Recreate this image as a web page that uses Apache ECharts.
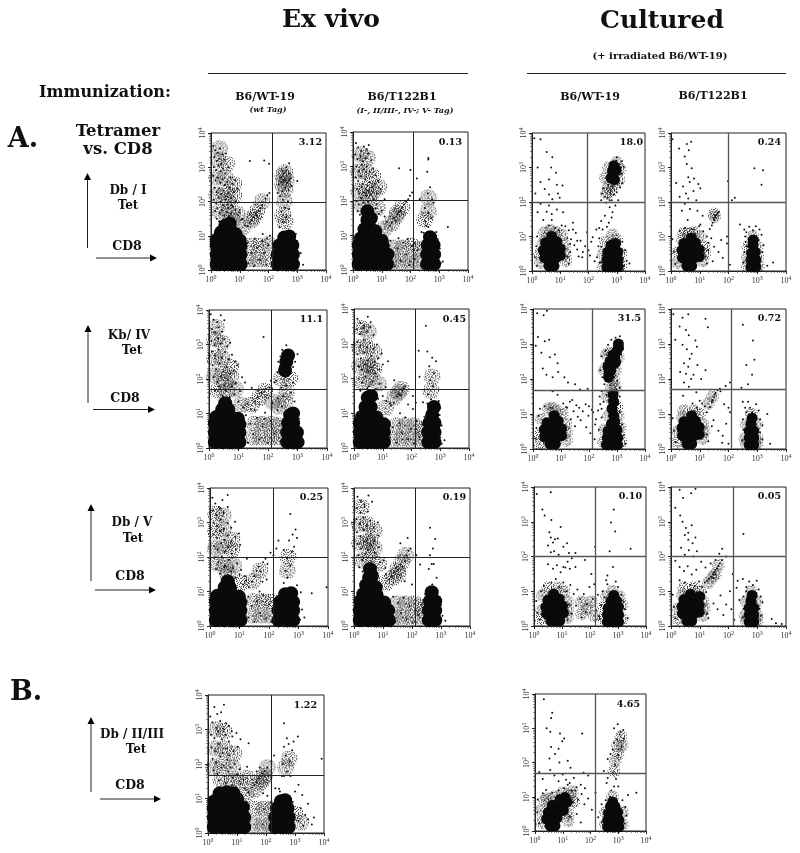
<!DOCTYPE html>
<html>
<head>
<meta charset="utf-8">
<style>
  html, body { margin: 0; padding: 0; background: #fff; }
  #main { width: 800px; height: 853px; }
</style>
<script src="https://cdn.jsdelivr.net/npm/echarts@6/dist/echarts.min.js"></script>
</head>
<body>
<div id="main"></div>
<script>
// tick labels (decade exponents) shared by all plots
const tickExponents = ['0', '1', '2', '3', '4'];

// percentages printed in the upper right quadrant
const percentValues = ['3.12', '0.13', '18.0', '0.24', '11.1', '0.45', '31.5', '0.72', '0.25', '0.19', '0.10', '0.05', '1.22', '4.65'];

// quadrant gates, CD8 and tetramer fluorescence
const gateX = [130, 125, 94, 98, 133, 135, 135, 129, 137, 134, 150, 146, 149, 154];
const gateY = [98, 102, 98, 98, 50, 50, 49, 50, 100, 100, 100, 100, 47, 48];

// events: flat x,y pairs in hundredths of a decade.
// Core = solid black populations, Haze = stippled areas too dense to list, Dots = single events
const p11Core = [20,17,47,17,75,17,103,17,20,45,47,45,75,45,103,45,20,72,47,72,75,72,103,70,20,88,47,90,75,90,100,86,35,110,60,112,85,105,50,130,65,135,232,17,260,17,285,17,232,45,260,45,285,45,238,72,262,72,283,72,255,95,272,98];
const p11Haze = [20,220,50,225,80,215,20,270,50,270,80,250,25,320,55,310,30,355,30,170,60,170,90,165,60,200,75,145,110,125,135,30,165,30,195,30,140,70,170,70,200,75,140,145,160,170,178,200,150,155,250,275,258,285,262,262,250,250,258,235,255,200,250,160,258,140];
const p11Dots = [8,362,15,350,24,342,32,355,40,338,12,330,20,318,28,325,36,310,46,322,52,340,10,300,18,292,26,305,34,288,42,296,50,282,60,300,68,270,8,275,16,262,24,270,32,255,40,265,48,248,56,258,64,240,74,252,84,262,12,240,20,228,28,238,36,222,44,232,52,215,60,225,70,210,80,228,92,238,10,205,18,195,26,212,34,200,42,190,50,205,58,192,66,198,76,185,86,200,100,175,14,172,22,180,30,165,38,175,46,160,54,170,62,158,70,165,80,150,95,160,108,148,20,150,28,142,60,180,72,190,85,175,98,168,110,150,118,130,128,128,135,138,142,146,148,155,155,165,160,160,166,172,172,180,178,190,184,198,190,208,196,218,203,225,130,20,140,50,150,12,160,65,170,30,178,85,185,50,192,15,200,72,208,35,215,55,128,80,152,92,195,92,222,60,180,105,205,100,238,125,250,140,262,155,245,170,258,182,272,178,250,205,268,200,240,215,232,225,248,230,258,240,270,232,280,245,235,250,245,258,255,262,265,255,278,268,272,262,242,270,252,282,262,290,272,282,248,290,262,300,272,312,305,20,312,50,320,15,300,85,295,105,135,318,185,320,202,310,300,260];

const p12Core = [20,17,48,17,76,17,104,17,118,17,20,45,48,45,76,45,104,45,120,45,20,72,48,72,76,72,104,70,28,92,52,94,78,92,100,85,40,118,60,118,78,112,50,145,62,150,50,170,258,17,282,17,258,45,282,45,260,72,280,72,268,95];
const p12Haze = [20,230,45,235,70,225,90,240,20,285,45,285,70,270,25,335,50,325,30,190,55,210,85,180,110,120,140,25,170,25,200,25,225,25,145,65,175,65,205,70,235,60,135,135,150,155,170,180,155,165,250,145,262,170,262,210];
const p12Dots = [10,368,18,355,28,345,38,358,48,350,55,362,8,335,16,322,26,330,34,315,44,325,54,338,64,318,12,300,20,288,30,305,38,292,48,300,58,285,70,295,78,275,10,268,18,258,26,272,34,250,42,262,50,245,58,255,66,240,76,250,88,258,14,235,22,222,30,240,38,225,46,215,54,230,62,218,72,205,84,222,96,235,12,200,20,190,28,208,36,195,44,182,52,198,60,185,70,175,82,190,110,205,16,170,24,160,78,178,90,162,100,172,110,155,118,140,128,128,135,138,142,150,148,142,155,160,160,168,166,172,172,182,178,190,185,198,192,205,198,215,206,225,125,18,135,42,145,10,155,62,165,28,175,80,185,46,195,14,205,70,215,32,225,58,235,12,130,85,158,92,190,90,215,78,245,108,262,125,252,140,272,150,262,165,250,180,275,205,260,222,268,240,280,195,258,285,262,325,262,320,238,110,255,128,232,205,295,90,305,20,302,62,290,110,312,25,330,125,200,290,222,265,160,295];

const p13Core = [60,15,78,15,45,38,65,38,85,38,100,45,40,60,60,60,80,60,100,65,48,82,68,82,88,85,70,100,265,12,285,12,305,12,265,32,285,32,305,32,268,55,288,55,304,55,280,75,296,80,285,290,298,292,280,270,292,265,290,305];
const p13Haze = [28,50,30,25,50,95,40,80,120,30,115,75,118,50,105,105,85,112,65,118,45,112,262,85,300,90,252,15,315,15,252,50,315,50,285,105,260,270,272,300,308,265,270,245,312,295,300,315,290,250,280,232,265,225];
const p13Dots = [8,385,30,382,20,300,52,345,72,330,68,300,85,285,60,265,88,250,30,258,45,238,60,222,72,208,108,248,92,225,30,195,52,172,70,165,88,178,110,170,12,225,40,148,20,170,60,190,98,212,70,148,82,125,72,112,60,132,95,118,118,130,138,92,155,110,172,88,188,72,200,60,215,98,228,120,235,72,205,45,222,28,178,40,160,62,135,55,125,42,130,22,15,72,10,40,18,15,18,100,125,95,135,78,145,120,150,75,160,88,165,42,180,55,195,112,210,85,230,40,238,95,240,25,130,118,105,132,145,140,245,145,258,160,272,140,282,155,238,125,250,120,265,128,245,70,250,45,245,25,320,85,330,60,335,30,325,15,345,22,248,225,258,215,268,212,275,205,252,240,245,205,262,198,278,225,285,245,270,250,298,320,308,310,318,318,318,282,320,255,312,242,300,228,290,222,282,205,295,190,305,205,275,185,285,170,300,330,315,300,325,302];

const p14Core = [55,15,72,15,40,38,60,38,80,38,98,42,38,60,58,60,78,60,98,62,45,80,65,80,85,82,70,95,278,12,295,12,278,32,295,32,280,52,293,55,285,75,286,90];
const p14Haze = [25,55,22,25,40,90,115,70,110,30,118,50,100,100,80,112,60,110,45,110,266,40,302,40,265,15,305,15,268,70,300,70,285,100,150,165,152,158];
const p14Dots = [5,382,28,355,48,332,55,368,62,350,70,375,18,255,55,310,60,272,72,298,42,245,52,225,65,258,80,268,95,252,30,215,48,195,60,210,78,232,102,240,88,205,38,175,66,180,92,175,110,160,58,148,72,122,85,108,98,130,112,115,125,100,130,82,140,95,145,140,150,148,155,155,158,162,162,168,166,172,148,152,153,160,142,132,135,122,150,70,165,55,180,38,195,80,205,18,145,28,130,60,120,42,125,22,5,92,10,55,15,20,30,115,48,125,80,120,102,135,112,60,175,90,195,100,198,260,212,205,222,212,290,298,320,292,315,250,240,135,255,120,262,112,272,128,285,118,295,130,308,120,315,105,305,90,322,75,318,55,310,30,260,85,255,55,252,25,262,72,258,100,335,15,355,25];

const p21Core = [20,17,47,17,75,17,103,17,20,45,47,45,75,45,103,45,20,72,47,72,75,72,103,68,25,90,50,92,75,90,98,85,45,112,65,112,55,130,265,17,285,17,300,17,265,45,285,45,298,45,268,72,285,72,275,95,285,100,262,250,258,225,268,268];
const p21Haze = [18,210,45,215,75,205,20,260,45,260,75,235,20,315,45,305,25,350,30,165,60,165,90,170,55,190,110,125,150,30,180,30,210,30,240,30,155,70,185,70,215,70,240,65,145,125,170,145,190,165,215,135,235,120,258,135,262,160,245,200,275,200];
const p21Dots = [6,388,15,372,28,365,40,385,52,370,10,345,20,335,32,350,44,338,8,310,18,298,30,318,40,302,52,315,62,295,72,305,10,280,20,268,32,285,42,262,54,278,66,258,78,270,88,250,12,240,24,228,36,245,48,222,60,235,72,215,84,225,96,240,112,205,15,205,28,192,40,208,52,182,64,198,78,178,90,188,105,165,122,190,145,175,20,165,34,178,46,152,58,168,70,148,85,155,100,135,115,118,130,128,142,112,155,135,165,148,178,160,192,172,205,175,222,190,210,195,125,95,140,70,150,40,162,88,170,25,182,62,190,102,200,15,210,78,222,42,232,110,242,20,132,15,155,110,188,85,215,130,232,145,248,120,252,150,262,180,278,160,285,190,290,135,298,105,305,85,245,175,228,195,232,220,240,238,278,255,282,272,275,285,262,298,248,285,285,235,292,250,242,265,235,250,305,60,312,30,320,15,185,322,300,272];

const p22Core = [20,17,48,17,76,17,104,17,20,45,48,45,76,45,104,45,20,72,48,72,76,72,104,68,28,90,52,92,78,88,40,118,58,118,48,145,60,150,258,17,280,17,258,45,280,45,262,72,280,72,272,95,278,118];
const p22Haze = [20,235,45,240,70,225,20,290,45,290,70,275,25,345,50,335,30,190,55,200,85,185,55,235,110,115,140,25,170,25,200,25,230,25,150,65,180,65,210,65,240,55,140,145,155,160,165,170,268,165,272,205];
const p22Dots = [12,372,22,360,35,352,48,378,58,362,10,342,20,328,32,345,45,335,56,348,68,325,12,305,22,295,34,312,44,290,56,302,68,285,80,298,12,270,24,258,36,275,48,252,60,265,72,248,84,258,96,272,15,235,26,225,38,240,50,220,62,232,74,215,88,225,100,240,118,250,16,200,28,188,40,205,52,178,64,192,76,170,90,185,110,175,140,195,22,165,34,155,46,172,58,148,70,160,84,142,100,150,125,128,35,142,112,135,128,122,138,130,148,148,156,155,162,152,168,165,172,172,178,178,125,30,135,60,148,15,158,72,168,42,178,88,188,25,198,55,208,12,218,78,228,32,238,68,245,90,205,112,160,100,258,125,268,140,258,155,275,178,265,195,278,215,262,235,272,260,255,278,285,250,240,132,255,128,228,205,305,65,300,30,315,22,298,95,250,352,300,115,295,135,215,130,188,125,205,150,225,280,305,12];

const p23Core = [60,15,80,15,42,35,62,35,82,35,102,38,40,55,60,55,80,55,102,58,50,75,70,75,90,80,75,95,262,12,282,12,302,12,265,32,285,32,303,32,268,52,288,52,300,55,280,72,292,78,288,95,282,115,288,135,286,155,270,205,278,225,285,245,292,262,298,278,305,290,275,250,268,235,285,268,272,220,295,248,305,300];
const p23Haze = [25,40,25,15,120,25,118,70,120,48,30,85,105,100,85,110,55,115,70,118,252,20,315,20,255,55,312,60,270,95,305,95,265,150,300,120,280,175,295,175,290,195,255,225,295,225,305,262,262,270,275,275,275,215];
const p23Dots = [15,388,38,382,50,395,18,320,10,295,42,308,58,312,30,275,60,262,78,270,88,245,35,230,48,212,70,205,90,220,112,205,125,190,150,185,168,170,195,172,200,122,215,105,225,85,70,165,88,155,118,120,132,135,108,130,122,118,140,140,155,125,165,118,178,108,188,128,198,95,210,112,222,70,232,110,240,128,160,92,145,108,170,82,190,62,205,45,220,28,235,55,245,90,12,60,8,30,20,95,25,115,42,122,62,118,150,65,135,85,245,115,252,135,262,155,245,165,255,185,248,205,240,225,252,245,245,265,258,280,268,298,280,312,295,318,310,322,318,308,322,285,315,270,308,255,302,232,290,205,300,195,275,182,298,170,310,150,305,128,310,105,305,90,318,70,325,40,330,15,238,150,270,140,272,120,310,175];

const p24Core = [55,15,72,15,40,38,60,38,80,38,98,42,38,60,58,60,78,60,98,62,45,78,65,78,85,80,72,95,272,12,288,12,272,32,288,32,272,52,288,52,278,72,282,88];
const p24Haze = [25,50,22,20,40,90,112,70,110,30,116,50,100,100,80,110,45,110,258,30,300,30,262,70,298,70,262,15,300,15,280,100,130,130,145,150];
const p24Dots = [8,385,40,375,60,385,30,350,52,340,15,312,62,325,85,310,40,298,55,285,72,272,90,292,120,372,128,348,65,258,45,245,32,220,52,215,60,235,78,212,92,240,105,200,120,225,45,190,62,178,70,200,88,162,42,152,75,130,90,118,100,138,118,122,125,105,135,120,142,135,150,148,155,160,162,168,170,172,145,140,152,155,148,82,142,65,165,52,180,38,192,72,205,105,185,128,200,118,200,15,178,18,125,42,130,22,6,88,10,52,15,20,108,130,172,165,205,190,190,180,262,240,268,185,282,212,290,255,245,175,250,135,258,118,268,135,275,118,282,105,296,128,305,110,310,85,318,68,310,48,318,28,250,85,252,55,248,25,262,105,335,100,345,15,250,355,285,310];

const p31Core = [20,17,47,17,75,17,103,17,20,45,47,45,75,45,103,45,20,72,47,72,75,72,103,68,25,88,50,92,75,90,98,85,50,112,68,110,60,130,232,17,260,17,282,17,232,45,260,45,282,45,238,70,262,70,282,70,255,92,275,95];
const p31Haze = [18,225,45,230,75,220,20,275,45,280,75,250,20,325,45,320,25,180,50,175,80,175,60,150,105,125,145,30,175,30,205,30,150,72,180,72,210,70,145,130,170,160,262,160,265,200];
const p31Dots = [8,372,18,355,30,345,42,365,60,380,10,335,22,322,34,340,46,328,60,345,12,300,24,290,36,308,48,282,60,298,72,285,85,302,12,265,24,255,36,275,48,250,60,262,72,245,86,258,98,268,14,232,26,222,38,240,50,215,62,228,74,210,88,222,102,235,125,195,15,198,28,185,40,202,52,175,64,192,78,168,92,182,105,162,20,165,34,152,48,170,60,145,72,158,88,140,100,150,118,145,112,120,122,132,132,112,142,128,150,145,158,160,165,172,172,158,180,185,188,195,195,180,205,212,215,205,225,225,232,248,178,128,192,135,130,25,142,58,150,12,160,72,170,38,180,90,190,22,200,62,208,12,218,78,228,42,130,85,168,100,250,125,262,140,255,160,272,175,262,195,278,215,285,230,268,248,280,265,290,280,295,255,250,220,272,325,305,18,312,48,298,75,308,98,295,118,345,95,395,112,320,25];

const p32Core = [20,17,48,17,76,17,104,17,120,17,20,45,48,45,76,45,104,45,118,45,22,72,48,72,76,72,104,68,32,92,52,95,78,90,42,118,60,118,75,112,52,140,62,145,55,165,258,17,280,17,258,45,280,45,262,72,280,72,268,98];
const p32Haze = [20,240,45,245,70,225,20,295,45,295,70,275,25,345,30,190,52,200,85,180,55,240,110,125,140,25,170,25,200,25,230,25,150,65,180,65,210,65,235,55,135,140,148,160,165,185,178,205,152,150];
const p32Dots = [12,375,24,362,36,352,50,378,62,360,10,342,22,328,36,345,48,332,8,310,20,298,32,315,44,290,56,305,68,285,82,300,10,272,22,260,34,278,46,252,58,268,70,248,84,262,12,238,24,225,36,245,48,220,60,235,72,212,86,228,102,190,15,205,28,192,40,210,52,180,64,198,76,172,90,185,108,168,18,170,30,158,110,150,122,135,130,145,138,155,145,168,152,162,160,178,168,172,175,188,182,205,188,218,195,225,122,22,132,55,142,12,152,68,162,38,172,82,182,20,192,58,202,10,212,75,222,32,232,62,245,92,135,85,258,165,262,205,272,225,280,252,268,180,285,140,270,120,255,100,300,60,305,30,315,15,298,22,228,178,215,205,185,255,160,240,200,120,175,130,262,285,275,180];

const p33Core = [60,15,78,15,92,15,45,35,65,35,85,35,105,38,42,55,62,55,82,55,102,58,50,75,70,75,90,78,70,92,262,12,282,12,302,12,262,32,282,32,302,32,265,52,285,52,302,55,275,72,295,72,285,88];
const p33Haze = [28,45,25,20,120,25,120,70,122,48,30,88,108,100,85,110,50,110,250,20,315,20,250,55,315,60,280,100,305,85,260,85,170,70,205,70,170,35,215,30,190,50];
const p33Dots = [10,380,60,385,30,335,38,318,62,305,55,270,60,255,68,240,75,250,95,285,85,252,50,232,60,212,72,215,88,205,105,228,118,238,125,210,135,195,148,210,120,185,105,170,50,178,68,165,82,175,95,155,112,168,62,125,78,135,90,112,105,125,115,100,130,118,142,92,155,105,165,78,178,92,188,62,198,112,210,78,222,45,235,20,170,25,185,40,150,58,135,35,120,18,125,62,8,72,12,38,20,18,25,100,35,115,128,165,148,170,182,190,205,150,215,120,228,90,240,60,232,28,245,100,252,82,262,120,272,30,262,145,282,170,258,132,292,128,300,112,285,98,312,90,320,70,325,48,335,22,245,12,255,45,275,298,285,335,290,272,218,228,270,215,345,222];

const p34Core = [55,15,72,15,40,36,60,36,80,36,98,40,38,56,58,56,78,56,98,60,45,76,65,76,85,78,100,85,68,92,272,12,288,12,272,32,288,32,272,52,288,52,278,72,282,88];
const p34Haze = [25,50,22,20,40,88,112,70,110,30,116,50,100,100,80,110,45,110,258,30,300,30,262,70,298,70,262,15,300,15,280,100,130,125,145,140,155,150,165,175];
const p34Dots = [30,392,42,368,70,382,85,395,15,340,32,318,40,300,52,282,60,268,72,290,48,262,60,248,75,238,85,255,35,225,48,205,62,218,78,200,90,215,105,185,120,168,138,180,155,190,168,208,178,222,192,200,15,188,30,170,45,158,58,172,72,148,88,162,30,132,48,125,68,118,82,115,98,128,108,112,122,98,118,125,125,130,132,135,140,142,146,148,150,155,155,160,160,166,165,172,170,180,148,138,155,148,178,190,148,65,162,48,172,88,182,32,192,62,205,100,220,18,238,75,125,35,130,22,6,90,10,55,15,22,210,48,228,110,232,130,215,150,252,265,250,135,262,112,272,128,285,118,298,130,305,105,312,85,318,68,308,50,315,30,252,85,252,50,250,25,262,100,295,95,350,20,365,8,385,6];

const pb1Core = [20,17,48,17,76,17,104,17,125,17,20,45,48,45,76,45,104,45,125,45,20,72,48,72,76,72,104,72,120,75,22,92,48,95,76,95,100,98,40,115,65,118,88,115,232,17,258,17,278,17,232,45,258,45,278,45,238,72,258,72,274,72,252,92,266,95];
const pb1Haze = [20,190,50,200,85,190,25,245,55,245,90,230,30,300,55,295,110,150,135,160,45,155,80,150,130,110,160,25,190,25,215,25,165,70,195,70,220,70,160,125,180,145,195,165,205,190,190,155,268,190,280,215,300,55,320,30];
const pb1Dots = [8,338,22,365,32,345,45,350,55,372,15,320,28,305,42,325,52,302,62,318,72,310,82,295,10,285,22,275,36,295,48,272,60,285,72,265,84,280,98,290,112,272,12,248,24,238,38,258,50,232,62,245,74,225,88,238,102,250,16,215,28,205,42,222,54,195,66,212,78,190,92,200,110,185,135,192,140,260,20,182,32,172,46,190,58,165,70,178,84,160,100,170,122,155,38,152,62,145,82,138,98,130,112,142,128,128,140,118,152,132,160,140,168,148,175,158,182,165,188,172,195,180,205,190,218,208,228,225,152,155,168,178,178,190,208,165,235,100,190,115,205,108,218,88,232,130,248,120,262,165,272,178,258,200,282,208,268,225,262,250,278,258,272,275,290,240,285,165,255,165,245,128,300,120,312,140,325,110,345,85,320,72,335,52,312,35,328,22,345,40,358,25,292,90,295,265,310,280,262,318,365,45,392,215];

const pb2Core = [55,15,72,15,42,35,62,35,80,38,48,55,68,55,85,55,102,60,62,75,82,75,100,78,115,85,90,92,108,98,262,12,282,12,302,12,262,32,282,32,302,32,265,52,285,52,298,55,272,72,288,72,280,85];
const pb2Haze = [22,60,25,25,35,90,120,50,125,105,120,30,45,95,70,100,135,115,100,112,120,85,140,85,255,20,315,20,255,55,315,55,280,100,298,250,290,205,310,275,300,225,315,250,285,175];
const pb2Dots = [32,385,58,330,62,345,42,300,55,290,90,285,105,270,98,262,170,285,58,245,72,225,85,240,52,212,88,200,118,205,128,185,15,172,28,152,55,178,70,162,85,145,100,165,112,150,125,140,140,155,150,128,165,135,180,125,175,170,192,162,105,125,118,135,132,118,145,118,155,92,168,108,178,78,192,95,205,62,218,112,228,40,240,78,245,18,135,85,150,50,165,25,125,42,10,92,8,55,15,22,28,110,40,120,62,112,85,118,248,175,262,155,275,118,270,100,258,140,262,210,272,225,280,238,285,258,295,268,305,282,318,295,285,300,298,312,308,290,320,270,312,245,300,222,288,195,280,170,292,152,300,130,285,130,255,90,315,90,325,70,330,45,322,22,240,25,250,60,335,105,365,112];

const panelCores = [p11Core, p12Core, p13Core, p14Core, p21Core, p22Core, p23Core, p24Core, p31Core, p32Core, p33Core, p34Core, pb1Core, pb2Core];
const panelHaze = [p11Haze, p12Haze, p13Haze, p14Haze, p21Haze, p22Haze, p23Haze, p24Haze, p31Haze, p32Haze, p33Haze, p34Haze, pb1Haze, pb2Haze];
const panelDots = [p11Dots, p12Dots, p13Dots, p14Dots, p21Dots, p22Dots, p23Dots, p24Dots, p31Dots, p32Dots, p33Dots, p34Dots, pb1Dots, pb2Dots];

// plot boxes in page pixels: left, top, right, bottom
const panelBoxes = [
  [211, 133, 326, 270], [353, 132, 468, 270], [532, 133, 645, 271], [671, 133, 786, 271],
  [209, 310, 327, 448], [354, 309, 469, 448], [533, 309, 645, 449], [671, 309, 786, 449],
  [210, 488, 328, 626], [354, 488, 470, 626], [534, 487, 646, 626], [671, 487, 786, 626],
  [208, 695, 324, 833], [535, 694, 646, 831]
];
const percentRight = [322, 462, 643, 781, 323, 466, 641, 781, 323, 466, 642, 781, 317, 640];
const percentTop = [143, 143, 143, 143, 320, 320, 319, 319, 498, 498, 497, 497, 706, 705];

// fill for the Haze marks, one tile of printed stipple
const stippleRows = [
  '#..#...#.#..#..#',
  '.#...#....#...#.',
  '...#..#.#...#...',
  '#.#.....#.#...#.',
  '..#.#..#....#..#',
  '#....#...#.#....',
  '.#.#...#.....#.#',
  '...#.#...#.#....',
  '#.....#.#...#.#.',
  '..#.#.....#...#.',
  '.#...#.#.#..#...',
  '#..#.....#...#.#',
  '..#..#.#...#....',
  '.#.....#.#..#.#.',
  '#..#.#.....#....',
  '...#...#.#...#.#'
];

const SERIF = '"DejaVu Serif", serif';
const LABEL_SERIF = '"Liberation Serif", serif';

const toPoints = (flat) => {
  const points = [];
  for (let i = 0; i < flat.length; i += 2) {
    points.push([Math.pow(10, flat[i] / 100), Math.pow(10, flat[i + 1] / 100)]);
  }
  return points;
};

const isCultured = (i) => i === 13 || (i < 12 && i % 4 >= 2);

const stippleCanvas = document.createElement('canvas');
stippleCanvas.width = stippleRows[0].length;
stippleCanvas.height = stippleRows.length;
const stippleCtx = stippleCanvas.getContext('2d');
stippleCtx.fillStyle = '#111';
stippleRows.forEach((row, y) => {
  row.split('').forEach((c, x) => {
    if (c === '#') stippleCtx.fillRect(x, y, 1, 1);
  });
});

// symbols are scaled by size / 2, the tile has to be scaled back to stay 1:1
const stippleFill = (size) => ({
  image: stippleCanvas,
  repeat: 'repeat',
  scaleX: 2 / size,
  scaleY: 2 / size
});

const tickFormatter = (value) => {
  const exp = Math.round(Math.log10(value));
  return `{base|10}{sup|${tickExponents[exp]}}`;
};
const tickRich = {
  base: { fontFamily: LABEL_SERIF, fontSize: 8, color: '#333' },
  sup: { fontFamily: LABEL_SERIF, fontSize: 6, color: '#333', verticalAlign: 'bottom', padding: [0, 0, 5, 0] }
};

function buildAxis(gridIndex, isY) {
  return {
    type: 'log',
    logBase: 10,
    gridIndex,
    min: 1,
    max: 10000,
    axisLine: { show: true, onZero: false, lineStyle: { color: '#222', width: 1 } },
    axisTick: { show: true, length: 3, lineStyle: { color: '#222', width: 1 } },
    minorTick: { show: true, splitNumber: 9, length: 2, lineStyle: { color: '#444', width: 0.6 } },
    splitLine: { show: false },
    axisLabel: {
      show: true,
      margin: isY ? 3 : 4,
      rotate: isY ? 90 : 0,
      formatter: tickFormatter,
      rich: tickRich,
      showMinLabel: true,
      showMaxLabel: true,
      hideOverlap: false
    }
  };
}

const grids = panelBoxes.map(([l, t, r, b]) => ({
  left: l, top: t, width: r - l, height: b - t,
  show: true, borderColor: '#222', borderWidth: 1, backgroundColor: 'transparent'
}));
const xAxes = panelBoxes.map((_, i) => buildAxis(i, false));
const yAxes = panelBoxes.map((_, i) => buildAxis(i, true));

const series = [];
panelBoxes.forEach((_, i) => {
  const cultured = isCultured(i);
  const gateColor = cultured ? '#555' : '#222';
  const gateWidth = cultured ? 1.3 : 1;
  const hazeSize = cultured ? 13 : 17;
  series.push({
    type: 'scatter',
    xAxisIndex: i,
    yAxisIndex: i,
    data: toPoints(panelHaze[i]),
    symbolSize: hazeSize,
    itemStyle: { color: stippleFill(hazeSize) },
    silent: true
  });
  series.push({
    type: 'scatter',
    xAxisIndex: i,
    yAxisIndex: i,
    data: toPoints(panelCores[i]),
    symbolSize: cultured ? 11 : 14,
    itemStyle: { color: '#0a0a0a', opacity: 1 },
    silent: true
  });
  series.push({
    type: 'scatter',
    xAxisIndex: i,
    yAxisIndex: i,
    data: toPoints(panelDots[i]),
    symbolSize: 2,
    itemStyle: { color: '#111', opacity: 1 },
    silent: true,
    markLine: {
      silent: true,
      symbol: 'none',
      animation: false,
      label: { show: false },
      lineStyle: { color: gateColor, width: gateWidth, type: 'solid' },
      data: [{ xAxis: gateX[i] }, { yAxis: gateY[i] }]
    }
  });
});

function label(text, x, y, size, opts) {
  return {
    type: 'text',
    x, y,
    silent: true,
    style: Object.assign({
      text,
      fontFamily: SERIF,
      fontWeight: 'bold',
      fontSize: size,
      fill: '#111',
      align: 'center',
      verticalAlign: 'middle'
    }, opts || {})
  };
}

function arrow(x1, y1, x2, y2) {
  const dx = Math.sign(x2 - x1);
  const dy = Math.sign(y2 - y1);
  const points = dx
    ? [[x2, y2], [x2 - dx * 7, y2 - 3.5], [x2 - dx * 7, y2 + 3.5]]
    : [[x2, y2], [x2 - 3.5, y2 - dy * 7], [x2 + 3.5, y2 - dy * 7]];
  return [
    { type: 'line', silent: true, shape: { x1, y1, x2: x2 - dx * 5, y2: y2 - dy * 5 }, style: { stroke: '#222', lineWidth: 1 } },
    { type: 'polygon', silent: true, shape: { points }, style: { fill: '#000' } }
  ];
}

const graphics = [
  label('Ex vivo', 331, 20, 25),
  label('Cultured', 662, 21, 25),
  label('(+ irradiated B6/WT-19)', 660, 56, 10),
  { type: 'line', silent: true, shape: { x1: 208, y1: 73.5, x2: 468, y2: 73.5 }, style: { stroke: '#222', lineWidth: 1 } },
  { type: 'line', silent: true, shape: { x1: 527, y1: 73.5, x2: 786, y2: 73.5 }, style: { stroke: '#222', lineWidth: 1 } },
  label('Immunization:', 105, 93, 16),
  label('B6/WT-19', 265, 97, 11),
  label('(wt Tag)', 268, 110, 8, { fontStyle: 'italic' }),
  label('B6/T122B1', 402, 97, 11),
  label('(I-, II/III-, IV-; V- Tag)', 405, 111, 8, { fontStyle: 'italic' }),
  label('B6/WT-19', 590, 97, 11),
  label('B6/T122B1', 713, 96, 11),
  label('A.', 23, 140, 27),
  label('Tetramer', 118, 132, 16.5),
  label('vs. CD8', 118, 150, 16.5),
  label('Db / I', 128, 191, 12),
  label('Tet', 128, 206, 12),
  label('CD8', 127, 247, 12.5),
  label('Kb/ IV', 129, 336, 12),
  label('Tet', 132, 351, 12),
  label('CD8', 125, 399, 12.5),
  label('Db / V', 132, 523, 12),
  label('Tet', 133, 539, 12),
  label('CD8', 130, 577, 12.5),
  label('B.', 26, 693, 27),
  label('Db / II/III', 132, 735, 12),
  label('Tet', 136, 750, 12),
  label('CD8', 130, 786, 12.5),
  ...arrow(87.5, 248, 87.5, 173),
  ...arrow(96, 258, 157, 258),
  ...arrow(88, 403, 88, 325),
  ...arrow(93, 409.5, 155, 409.5),
  ...arrow(91, 581, 91, 504),
  ...arrow(95, 590, 156, 590),
  ...arrow(91, 792, 91, 717),
  ...arrow(100, 799, 161, 799)
];
percentValues.forEach((text, i) => {
  graphics.push(label(text, percentRight[i], percentTop[i], 9.5, { align: 'right' }));
});

const chart = echarts.init(document.getElementById('main'), null, { renderer: 'canvas' });
chart.setOption({
  animation: false,
  backgroundColor: '#fff',
  tooltip: { show: false },
  grid: grids,
  xAxis: xAxes,
  yAxis: yAxes,
  series,
  graphic: { elements: graphics }
});
</script>
</body>
</html>
